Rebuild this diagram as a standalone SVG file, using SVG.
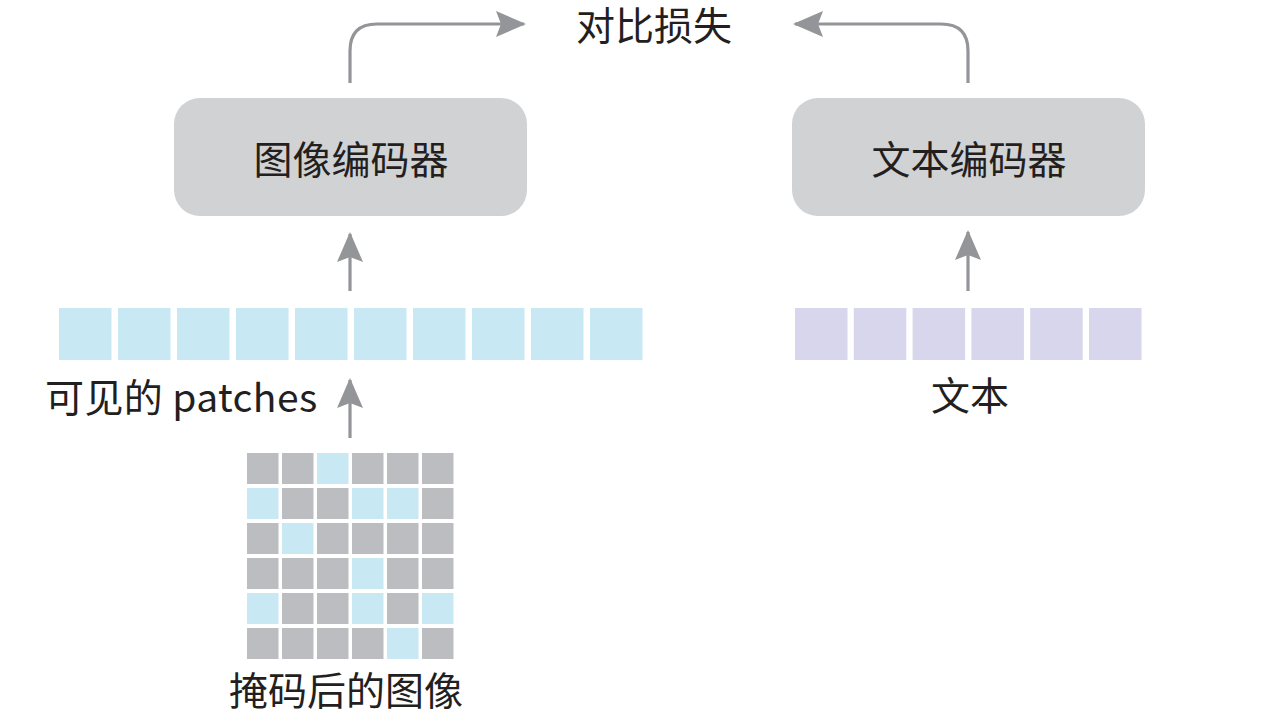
<svg xmlns="http://www.w3.org/2000/svg" width="1262" height="715" viewBox="0 0 1262 715">
<defs>
<style>
.t{font-family:"Noto Sans CJK SC","Noto Sans",sans-serif;font-size:39px;fill:#231f20}
.enc{fill:#d1d2d4}
.g{fill:#bcbdc1}
.b{fill:#c8e8f4}
.p{fill:#d8d6ec}
.ln{fill:none;stroke:#939598;stroke-width:3.2}
</style>
<marker id="ah" viewBox="0 0 30 26" markerWidth="30" markerHeight="26" refX="28" refY="13" orient="auto" markerUnits="userSpaceOnUse">
<path d="M0,0 L30,13 L0,26 L5,13 Z" fill="#939598"/>
</marker>
</defs>
<rect width="1262" height="715" fill="#ffffff"/>

<g id="connectors">
<path class="ln" d="M350,83 V51 Q350,24 377,24 H524" marker-end="url(#ah)"/>
<path class="ln" d="M968,83 V51 Q968,24 941,24 H795" marker-end="url(#ah)"/>
<path class="ln" d="M350,291 V234" marker-end="url(#ah)"/>
<path class="ln" d="M350,438 V380" marker-end="url(#ah)"/>
<path class="ln" d="M968,291 V232" marker-end="url(#ah)"/>
</g>

<g id="loss">
<text class="t" x="654" y="40" text-anchor="middle">对比损失</text>
</g>

<g id="image-encoder">
<rect class="enc" x="174" y="98" width="353" height="118" rx="26"/>
<text class="t" x="351" y="174" text-anchor="middle">图像编码器</text>
</g>

<g id="text-encoder">
<rect class="enc" x="792" y="98" width="353" height="118" rx="26"/>
<text class="t" x="969" y="174" text-anchor="middle">文本编码器</text>
</g>

<g id="visible-patches">
<rect class="b" x="59" y="308" width="52.5" height="52"/>
<rect class="b" x="118" y="308" width="52.5" height="52"/>
<rect class="b" x="177" y="308" width="52.5" height="52"/>
<rect class="b" x="236" y="308" width="52.5" height="52"/>
<rect class="b" x="295" y="308" width="52.5" height="52"/>
<rect class="b" x="354" y="308" width="52.5" height="52"/>
<rect class="b" x="413" y="308" width="52.5" height="52"/>
<rect class="b" x="472" y="308" width="52.5" height="52"/>
<rect class="b" x="531" y="308" width="52.5" height="52"/>
<rect class="b" x="590" y="308" width="52.5" height="52"/>
<text class="t" x="45" y="412" letter-spacing="0.4">可见的 patches</text>
</g>

<g id="text-tokens">
<rect class="p" x="795" y="308" width="52.5" height="52"/>
<rect class="p" x="853.8" y="308" width="52.5" height="52"/>
<rect class="p" x="912.6" y="308" width="52.5" height="52"/>
<rect class="p" x="971.4" y="308" width="52.5" height="52"/>
<rect class="p" x="1030.2" y="308" width="52.5" height="52"/>
<rect class="p" x="1089" y="308" width="52.5" height="52"/>
<text class="t" x="970" y="410" text-anchor="middle">文本</text>
</g>

<g id="masked-image">
<rect class="g" x="247" y="453" width="31.5" height="31"/>
<rect class="g" x="282" y="453" width="31.5" height="31"/>
<rect class="b" x="317" y="453" width="31.5" height="31"/>
<rect class="g" x="352" y="453" width="31.5" height="31"/>
<rect class="g" x="387" y="453" width="31.5" height="31"/>
<rect class="g" x="422" y="453" width="31.5" height="31"/>

<rect class="b" x="247" y="488" width="31.5" height="31"/>
<rect class="g" x="282" y="488" width="31.5" height="31"/>
<rect class="g" x="317" y="488" width="31.5" height="31"/>
<rect class="b" x="352" y="488" width="31.5" height="31"/>
<rect class="b" x="387" y="488" width="31.5" height="31"/>
<rect class="g" x="422" y="488" width="31.5" height="31"/>

<rect class="g" x="247" y="523" width="31.5" height="31"/>
<rect class="b" x="282" y="523" width="31.5" height="31"/>
<rect class="g" x="317" y="523" width="31.5" height="31"/>
<rect class="g" x="352" y="523" width="31.5" height="31"/>
<rect class="g" x="387" y="523" width="31.5" height="31"/>
<rect class="g" x="422" y="523" width="31.5" height="31"/>

<rect class="g" x="247" y="558" width="31.5" height="31"/>
<rect class="g" x="282" y="558" width="31.5" height="31"/>
<rect class="g" x="317" y="558" width="31.5" height="31"/>
<rect class="b" x="352" y="558" width="31.5" height="31"/>
<rect class="g" x="387" y="558" width="31.5" height="31"/>
<rect class="g" x="422" y="558" width="31.5" height="31"/>

<rect class="b" x="247" y="593" width="31.5" height="31"/>
<rect class="g" x="282" y="593" width="31.5" height="31"/>
<rect class="g" x="317" y="593" width="31.5" height="31"/>
<rect class="b" x="352" y="593" width="31.5" height="31"/>
<rect class="g" x="387" y="593" width="31.5" height="31"/>
<rect class="b" x="422" y="593" width="31.5" height="31"/>

<rect class="g" x="247" y="628" width="31.5" height="31"/>
<rect class="g" x="282" y="628" width="31.5" height="31"/>
<rect class="g" x="317" y="628" width="31.5" height="31"/>
<rect class="g" x="352" y="628" width="31.5" height="31"/>
<rect class="b" x="387" y="628" width="31.5" height="31"/>
<rect class="g" x="422" y="628" width="31.5" height="31"/>
<text class="t" x="346" y="705" text-anchor="middle">掩码后的图像</text>
</g>
</svg>
